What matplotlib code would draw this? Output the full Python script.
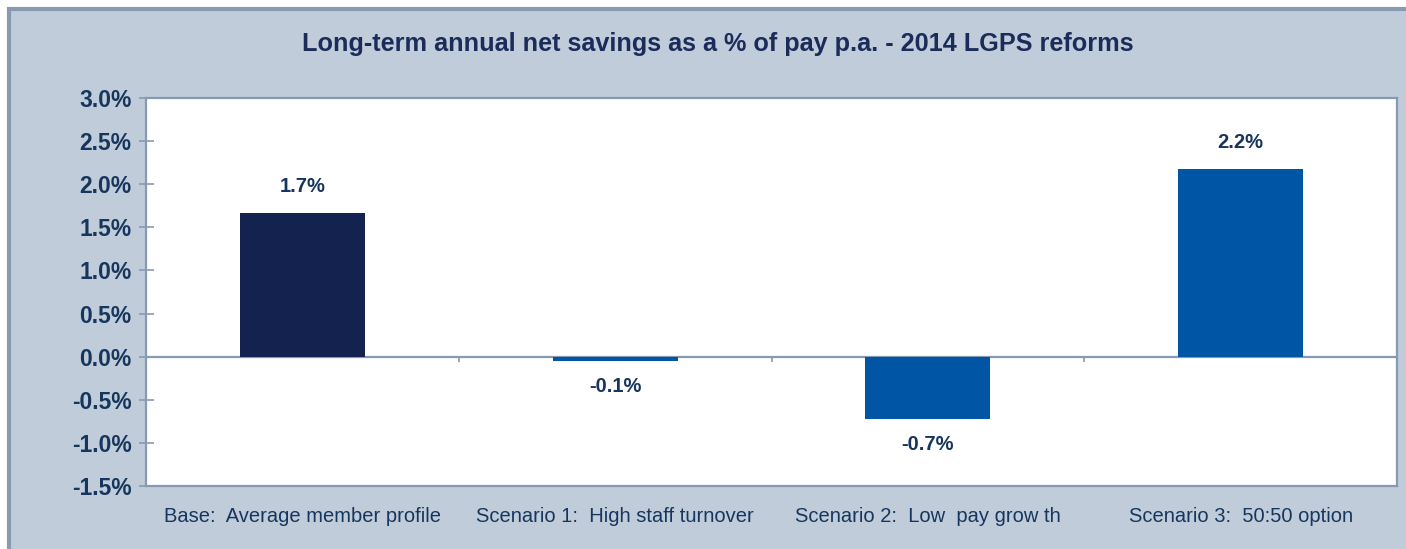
import numpy as np
import matplotlib
matplotlib.use('Agg')
import matplotlib.pyplot as plt
from matplotlib.patches import Rectangle
from matplotlib.ticker import FuncFormatter

plt.rcParams['font.family'] = ['Liberation Sans', 'DejaVu Sans']

# Savings by scenario (% of pay p.a.)
categories = ['Base:  Average member profile',
              'Scenario 1:  High staff turnover',
              'Scenario 2:  Low  pay grow th',
              'Scenario 3:  50:50 option']
savings = [1.67, -0.05, -0.72, 2.18]
bar_colors = ['#13224F', '#0056A4', '#0056A4', '#0056A4']
y_ticks = [-1.5, -1.0, -0.5, 0.0, 0.5, 1.0, 1.5, 2.0, 2.5, 3.0]

navy = '#17365D'
frame_col = '#8799B3'
panel_bg = '#C0CCDA'

fig = plt.figure(figsize=(14.06, 5.49), dpi=100)
fig.patch.set_facecolor('white')

# outer panel behind the chart
fig.patches.append(Rectangle((9 / 1406, -0.1), 1.1, 1.1 - 9.5 / 549,
                             transform=fig.transFigure, facecolor=panel_bg,
                             edgecolor=frame_col, linewidth=3, zorder=-10))

ax = fig.add_axes([146 / 1406, 63 / 549, 1251 / 1406, 388 / 549])
ax.set_facecolor('white')

x = np.arange(len(categories))
ax.bar(x, savings, width=0.4, color=bar_colors, zorder=3)
ax.axhline(0, color=frame_col, linewidth=1.6, zorder=2)
# small category dividers hanging from the zero line
ax.vlines(x[:-1] + 0.5, 0, -0.06, color=frame_col, linewidth=1.2, zorder=2)

for xi, v in zip(x, savings):
    off = 0.3 if v >= 0 else -0.3
    ax.text(xi, v + off, f'{v:.1f}%', ha='center', va='center',
            fontsize=14.5, fontweight='bold', color=navy)

ax.set_xlim(-0.5, len(categories) - 0.5)
ax.set_ylim(-1.5, 3.0)
ax.set_yticks(y_ticks)
ax.yaxis.set_major_formatter(FuncFormatter(lambda v, p: f'{v:.1f}%'))
ax.set_xticks(x)
ax.set_xticklabels(categories)

ax.tick_params(axis='y', direction='inout', length=10.8, width=1.2,
               color=frame_col, pad=5, labelsize=16.5, labelcolor=navy)
for lbl in ax.get_yticklabels():
    lbl.set_fontweight('bold')
ax.tick_params(axis='x', length=0, pad=15, labelsize=14.5, labelcolor=navy)

for s in ax.spines.values():
    s.set_color(frame_col)
    s.set_linewidth(1.6)

fig.text(718 / 1406, 1 - 44 / 549,
         'Long-term annual net savings as a % of pay p.a. - 2014 LGPS reforms',
         ha='center', va='center', fontsize=18.2, fontweight='bold', color='#1B2B5A')

fig.savefig('out.png', dpi=100)
